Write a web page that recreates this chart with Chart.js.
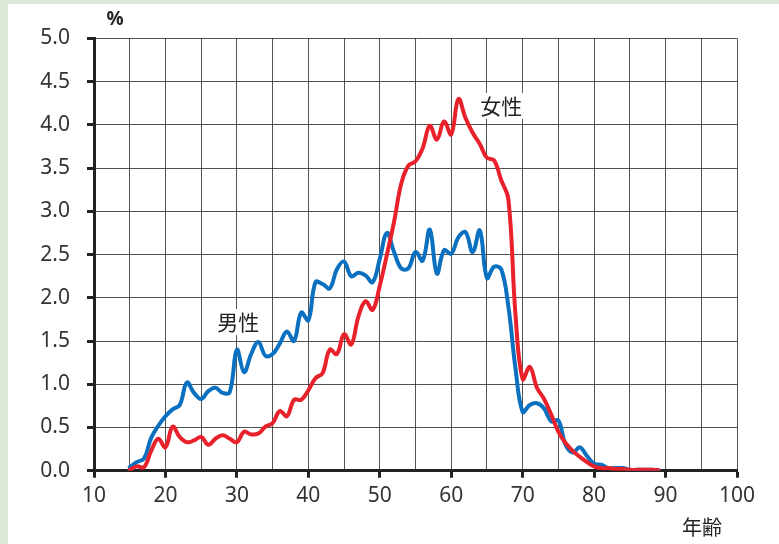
<!DOCTYPE html>
<html><head><meta charset="utf-8">
<script src="https://cdn.jsdelivr.net/npm/chart.js@4.4.0/dist/chart.umd.min.js"></script>
<style>html,body{margin:0;padding:0;background:#dde9d6;}canvas{display:block;}</style>
</head><body>
<canvas id="c" width="779" height="544"></canvas>
<script>
const ages = [15,16,17,18,19,20,21,22,23,24,25,26,27,28,29,30,31,32,33,34,35,36,37,38,39,40,41,42,43,44,45,46,47,48,49,50,51,52,53,54,55,56,57,58,59,60,61,62,63,64,65,66,67,68,69,70,71,72,73,74,75,76,77,78,79,80,81,82,83,84,85,86,87,88,89];
const male = [0.04,0.10,0.14,0.38,0.52,0.63,0.71,0.76,1.02,0.90,0.83,0.92,0.96,0.90,0.91,1.40,1.14,1.35,1.49,1.33,1.35,1.47,1.61,1.50,1.83,1.74,2.18,2.16,2.11,2.33,2.42,2.25,2.29,2.26,2.18,2.45,2.75,2.53,2.34,2.34,2.53,2.43,2.79,2.28,2.55,2.51,2.70,2.76,2.53,2.78,2.23,2.36,2.33,1.90,1.18,0.68,0.76,0.78,0.72,0.57,0.58,0.30,0.21,0.27,0.17,0.08,0.07,0.03,0.03,0.03,0.01,0.01,0.01,0.01,0.005];
const female = [0.01,0.05,0.04,0.23,0.37,0.27,0.51,0.39,0.33,0.35,0.39,0.30,0.37,0.41,0.37,0.33,0.45,0.42,0.43,0.51,0.55,0.69,0.63,0.82,0.82,0.93,1.07,1.13,1.40,1.35,1.58,1.46,1.78,1.96,1.86,2.14,2.50,2.88,3.32,3.53,3.58,3.73,3.99,3.83,4.04,3.89,4.30,4.08,3.91,3.78,3.62,3.59,3.36,3.14,1.80,1.06,1.20,0.96,0.83,0.65,0.45,0.32,0.23,0.16,0.10,0.05,0.03,0.03,0.02,0.02,0.01,0.01,0.01,0.01,0.005];
const xTickValues = [10,20,30,40,50,60,70,80,90,100];
const yTickLabels = ['0.0','0.5','1.0','1.5','2.0','2.5','3.0','3.5','4.0','4.5','5.0'];
const seriesNames = ['男性','女性'];
const yUnit = '%';
const xUnit = '年齢';

const FONT = "'Noto Sans', 'Noto Sans CJK JP', sans-serif";
const CJK = "'Noto Sans CJK JP', 'Noto Sans', sans-serif";

const bgPlugin = {
  id: 'bg',
  beforeDraw(chart) {
    const ctx = chart.ctx;
    ctx.save();
    ctx.fillStyle = '#dde9d6';
    ctx.fillRect(0, 0, chart.width, chart.height);
    ctx.fillStyle = '#ffffff';
    ctx.fillRect(8, 4, chart.width - 8, chart.height - 4);
    ctx.restore();
  }
};

const labelPlugin = {
  id: 'labels',
  beforeDatasetsDraw(chart) {
    const ctx = chart.ctx, xs = chart.scales.x, ys = chart.scales.y;
    ctx.save();
    ctx.font = "21px " + CJK;
    ctx.textAlign = 'center';
    ctx.textBaseline = 'middle';
    const items = [[seriesNames[0], 30.2, 1.72], [seriesNames[1], 67.0, 4.22]];
    for (const [t, ax, ay] of items) {
      const px = xs.getPixelForValue(ax), py = ys.getPixelForValue(ay);
      const w = ctx.measureText(t).width;
      ctx.fillStyle = '#fff';
      ctx.fillRect(px - w / 2 - 3, py - 13, w + 6, 26);
      ctx.fillStyle = '#222';
      ctx.fillText(t, px, py);
    }
    ctx.restore();
  },
  afterDraw(chart) {
    const ctx = chart.ctx, a = chart.chartArea;
    ctx.save();
    ctx.fillStyle = '#222';
    ctx.textAlign = 'center';
    ctx.textBaseline = 'middle';
    ctx.font = "bold 19px " + FONT;
    ctx.fillText(yUnit, a.left + 21, 20);
    ctx.font = "20px " + CJK;
    ctx.fillText(xUnit, a.right - 35, 527);
    ctx.restore();
  }
};

new Chart(document.getElementById('c'), {
  type: 'line',
  data: {
    datasets: [
      { label: seriesNames[0], data: ages.map((a, i) => ({x: a, y: male[i]})), borderColor: '#0a70bf', borderWidth: 4, pointRadius: 0, tension: 0.4, fill: false, borderCapStyle: 'round', borderJoinStyle: 'round' },
      { label: seriesNames[1], data: ages.map((a, i) => ({x: a, y: female[i]})), borderColor: '#e8212b', borderWidth: 4, pointRadius: 0, tension: 0.4, fill: false, borderCapStyle: 'round', borderJoinStyle: 'round' }
    ].reverse()
  },
  options: {
    responsive: false,
    animation: false,
    devicePixelRatio: 1,
    layout: { padding: { top: 38.5, right: 42, left: 0, bottom: 0 } },
    plugins: { legend: { display: false }, tooltip: { enabled: false } },
    scales: {
      x: {
        type: 'linear', min: 10, max: 100,
        ticks: { stepSize: 5, autoSkip: false, maxRotation: 0, color: '#333', padding: 6,
          font: { family: FONT, size: 21 },
          callback: v => xTickValues.includes(v) ? String(v) : '' },
        grid: { color: 'rgba(40,40,40,0.8)', lineWidth: 1, tickLength: 7, tickWidth: 3,
          tickColor: c => (c.tick && xTickValues.includes(c.tick.value)) ? '#222' : 'rgba(0,0,0,0)' },
        border: { color: '#222', width: 3 },
        afterFit(s) { s.height = 73.3; }
      },
      y: {
        min: 0, max: 5,
        ticks: { stepSize: 0.5, color: '#333', padding: 17, font: { family: FONT, size: 21 },
          callback: (v, i) => yTickLabels[i] },
        grid: { color: 'rgba(40,40,40,0.8)', lineWidth: 1, tickLength: 7, tickWidth: 3, tickColor: '#222' },
        border: { color: '#222', width: 3 },
        afterFit(s) { s.width = 94; }
      }
    }
  },
  plugins: [bgPlugin, labelPlugin]
});
</script>
</body></html>
